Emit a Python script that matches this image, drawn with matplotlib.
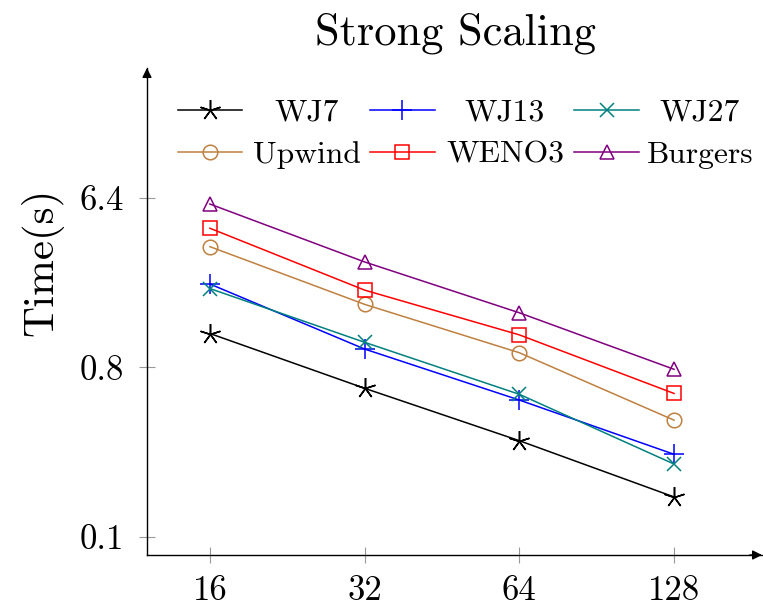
import matplotlib
matplotlib.use("Agg")
import matplotlib.pyplot as plt
from matplotlib.lines import Line2D
from matplotlib.ticker import FixedLocator, FixedFormatter, NullLocator

plt.rcParams["font.family"] = "serif"
plt.rcParams["font.serif"] = ["cmr10", "DejaVu Serif"]
plt.rcParams["mathtext.fontset"] = "cm"
plt.rcParams["axes.formatter.use_mathtext"] = True

# Processor counts and run times (seconds)
procs = [16, 32, 64, 128]
wj7 = [1.21, 0.618, 0.325, 0.163]
wj13 = [2.22, 1.00, 0.535, 0.275]
wj27 = [2.10, 1.086, 0.574, 0.244]
upwind = [3.51, 1.73, 0.956, 0.418]
weno3 = [4.40, 2.06, 1.19, 0.58]
burgers = [5.92, 2.91, 1.56, 0.78]

yticks = [0.1, 0.8, 6.4]
ytick_labels = ["0.1", "0.8", "6.4"]
xtick_labels = ["16", "32", "64", "128"]

series = [
    ("WJ7", wj7, "black", (5, 2, 0), 15),
    ("WJ13", wj13, "#0000ff", "+", 15),
    ("WJ27", wj27, "#008080", "x", 10),
    ("Upwind", upwind, "#bf8040", "o", 10.5),
    ("WENO3", weno3, "#ff0000", "s", 10.5),
    ("Burgers", burgers, "#800080", "^", 10),
]

W, H = 763, 606
fig = plt.figure(figsize=(W / 100, H / 100), dpi=100)
ax = fig.add_axes([147 / W, 1 - 555 / H, (762 - 147) / W, (555 - 68) / H])

for name, vals, color, marker, ms in series:
    ax.plot(procs, vals, color=color, lw=1.1, marker=marker, ms=ms,
            mfc="none", mec=color, mew=1.1, label=name)

ax.set_xscale("log", base=2)
ax.set_yscale("log", base=2)
ax.set_xlim(12.07, 189.8)
ax.set_ylim(0.080, 31.4)

ax.xaxis.set_major_locator(FixedLocator(procs))
ax.xaxis.set_major_formatter(FixedFormatter(xtick_labels))
ax.xaxis.set_minor_locator(NullLocator())
ax.yaxis.set_major_locator(FixedLocator(yticks))
ax.yaxis.set_major_formatter(FixedFormatter(ytick_labels))
ax.yaxis.set_minor_locator(NullLocator())

ax.tick_params(axis="both", which="major", direction="inout", length=11,
               width=0.8, color="#999999", labelsize=25)
ax.tick_params(axis="x", pad=9)
ax.tick_params(axis="y", pad=11)

for s in ("top", "right"):
    ax.spines[s].set_visible(False)
for s in ("left", "bottom"):
    ax.spines[s].set_linewidth(1.0)

# Arrowheads at the ends of the axis lines
for tip, tail in (((1.0, 0), (0.98, 0)), ((0, 1.0), (0, 0.98))):
    ax.annotate("", xy=tip, xytext=tail, xycoords="axes fraction",
                arrowprops=dict(arrowstyle="-|>", color="black", lw=1.0,
                                mutation_scale=14, shrinkA=0, shrinkB=0),
                annotation_clip=False)

ax.set_ylabel("Time(s)", fontsize=31)
ax.yaxis.set_label_coords((63 - 147) / (762 - 147), (555 - 262) / (555 - 68))
fig.text(455 / W, 1 - 33 / H, "Strong Scaling", ha="center", va="center",
         fontsize=32)

# Three-column legend, filled row by row, labels centred in their column
col_handles = [(178, 242), (370, 435), (574, 639)]
col_text_centres = [307, 505, 700]
row_y = [110, 152]
for i, (name, vals, color, marker, ms) in enumerate(series):
    r, c = divmod(i, 3)
    x0, x1 = col_handles[c]
    y = 1 - row_y[r] / H
    fig.add_artist(Line2D([x0 / W, x1 / W], [y, y], color=color, lw=1.1,
                          transform=fig.transFigure))
    fig.add_artist(Line2D([(x0 + x1) / 2 / W], [y], color=color, lw=0,
                          marker=marker, ms=ms, mfc="none", mec=color,
                          mew=1.1, transform=fig.transFigure))
    fig.text(col_text_centres[c] / W, y, name, ha="center", va="center_baseline",
             fontsize=22.7)

fig.savefig("out.png", dpi=100)
